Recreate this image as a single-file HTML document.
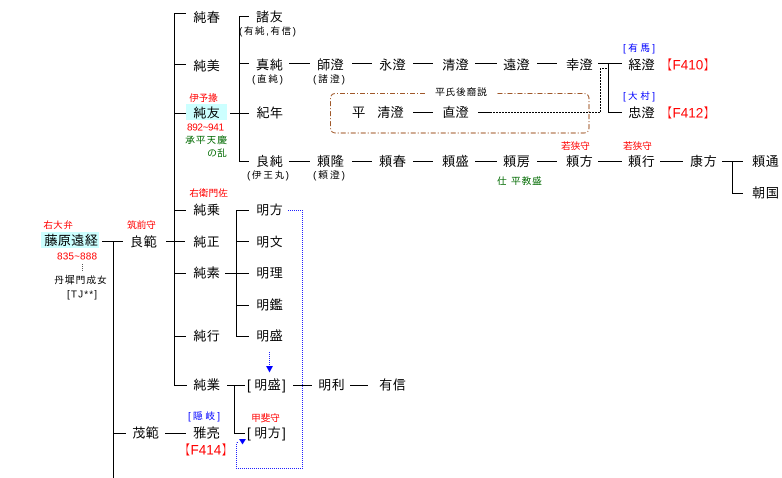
<!DOCTYPE html>
<html><head><meta charset="utf-8">
<style>
html,body{margin:0;padding:0;background:#fff;}
svg{display:block;font-family:"Liberation Sans","IPAGothic","Noto Sans CJK JP",sans-serif;}
text{dominant-baseline:central;}
.m{font-size:13.5px;fill:#000;}
.s{font-size:10px;fill:#000;}
.r{fill:#ff0000;}
.g{fill:#006a00;}
.b{fill:#0000ff;}
</style></head>
<body>
<svg width="782" height="478" viewBox="0 0 782 478" xmlns="http://www.w3.org/2000/svg">
<rect x="186" y="104" width="41" height="16" fill="#ccffff"/>
<rect x="41" y="232" width="58" height="16" fill="#ccffff"/>

<g stroke="#000" stroke-width="1" fill="none" shape-rendering="crispEdges">
<path d="M102 241.5H123M113.5 241V478M113 433.5H126"/>
<path d="M166 241.5H185M174.5 13V385.5M174 13.5H186M174 64.5H186M174 113.5H186M174 210.5H186M174 273.5H186M174 336.5H186M174 385.5H187"/>
<path d="M239.5 16V161.5M239 16.5H249M239 63.5H249M230 113.5H249M239 161.5H249"/>
<path d="M289 63.5H310M352 63.5H372M413 63.5H433M475 63.5H497M537 63.5H557M598 63.5H622M608.5 63V112.5M608 112.5H622"/>
<path d="M289 161.5H310M352 161.5H372M413 161.5H433M475 161.5H497M537 161.5H557M598 161.5H622M660 161.5H683M722 161.5H743M732.5 161V193.5M732 193.5H743"/>
<path d="M413 112.5H433M478 112.5H490"/>
<path d="M236.5 210V336.5M236 210.5H249M236 241.5H249M225 273.5H249M236 305.5H249M236 336.5H249"/>
<path d="M227 385.5H245M234.5 385V433.5H245M293 385.5H312M350 385.5H368M165 433.5H186"/>
</g>
<path d="M490 112.5H600.5V68.5H608" stroke="#000" stroke-width="1" fill="none" stroke-dasharray="2 1" shape-rendering="crispEdges"/>
<path d="M82.5 264V271" stroke="#555" stroke-width="1" stroke-dasharray="1 1" shape-rendering="crispEdges"/>

<path d="M425 93.5H336Q330.5 93.5 330.5 99V127.5Q330.5 133 336 133H583.5Q589 133 589 127.5V99Q589 93.5 583.5 93.5H497" stroke="#a0582a" stroke-width="1" fill="none" stroke-dasharray="5 2 1 2"/>

<path d="M288 210.5H302.5V468.5H236.5V446Q236.5 442 239 442" stroke="#2020ff" stroke-width="1" fill="none" stroke-dasharray="1 1" shape-rendering="crispEdges"/>
<polygon points="239,439 246,439 242.5,444.5" fill="#0000ff"/>
<path d="M269.5 352V366" stroke="#2020ff" stroke-width="1" fill="none" stroke-dasharray="1 1" shape-rendering="crispEdges"/>
<polygon points="266,366 273,366 269.5,372.5" fill="#0000ff"/>

<g class="m">
<text x="193" y="17.5">純春</text>
<text x="193" y="66">純美</text>
<text x="193" y="113">純友</text>
<text x="193" y="210">純乗</text>
<text x="193" y="242">純正</text>
<text x="193" y="273">純素</text>
<text x="193" y="336">純行</text>
<text x="193" y="385">純業</text>
<text x="256" y="17">諸友</text>
<text x="256" y="65">真純</text>
<text x="256" y="113">紀年</text>
<text x="256" y="161.5">良純</text>
<text x="256" y="210">明方</text>
<text x="256" y="242">明文</text>
<text x="256" y="273">明理</text>
<text x="256" y="305">明鑑</text>
<text x="256" y="336">明盛</text>
<text x="44" y="240.5">藤原遠経</text>
<text x="130" y="242">良範</text>
<text x="132" y="433">茂範</text>
<text x="193" y="433">雅亮</text>
<text x="318" y="385">明利</text>
<text x="379" y="385">有信</text>
<text x="317" y="65">師澄</text>
<text x="379" y="65">永澄</text>
<text x="442" y="65">清澄</text>
<text x="503" y="65">遠澄</text>
<text x="566" y="65">幸澄</text>
<text x="628" y="65">経澄</text>
<text x="317" y="161.5">頼隆</text>
<text x="379" y="161.5">頼春</text>
<text x="442" y="161.5">頼盛</text>
<text x="503" y="161.5">頼房</text>
<text x="566" y="161.5">頼方</text>
<text x="628" y="161.5">頼行</text>
<text x="690" y="161.5">康方</text>
<text x="752" y="161.5">頼通</text>
<text x="752" y="193">朝国</text>
<text x="352" y="112.5">平</text>
<text x="377" y="112.5">清澄</text>
<text x="442" y="112.5">直澄</text>
<text x="628" y="113">忠澄</text>
<text x="247" y="385">[</text><text x="254" y="385">明盛</text><text x="282" y="385">]</text>
<text x="247" y="433">[</text><text x="254" y="433">明方</text><text x="282" y="433">]</text>
<text x="659" y="65" class="r">【F410】</text>
<text x="659" y="113" class="r">【F412】</text>
<text x="177" y="450" class="r">【F414】</text>
</g>

<g class="s">
<text x="239" y="32" textLength="57">(有純,有信)</text>
<text x="252" y="80" textLength="31">(直純)</text>
<text x="313" y="80" textLength="32">(諸澄)</text>
<text x="247" y="176" textLength="42">(伊王丸)</text>
<text x="313" y="176" textLength="32">(頼澄)</text>
<text x="189" y="99" class="r" textLength="29">伊予掾</text>
<text x="187" y="128" class="r" textLength="37">892~941</text>
<text x="185" y="141" class="g" textLength="42">承平天慶</text>
<text x="207" y="154" class="g" textLength="20">の乱</text>
<text x="189" y="194" class="r" textLength="39">右衛門佐</text>
<text x="43" y="226" class="r" textLength="30">右大弁</text>
<text x="127" y="226" class="r" textLength="29">筑前守</text>
<text x="57" y="257" class="r" textLength="40">835~888</text>
<text x="54" y="281" textLength="53">丹墀門成女</text>
<text x="67" y="295" textLength="30">[TJ**]</text>
<text x="561" y="147" class="r" textLength="29">若狭守</text>
<text x="623" y="147" class="r" textLength="29">若狭守</text>
<text x="497" y="182" class="g" textLength="45">仕 平教盛</text>
<text x="623" y="49" class="b" textLength="32">[有馬]</text>
<text x="623" y="97" class="b" textLength="32">[大村]</text>
<text x="188" y="417" class="b" textLength="32">[隠岐]</text>
<text x="251" y="419" class="r" textLength="29">甲斐守</text>
<text x="435" y="93" textLength="52">平氏後裔説</text>
</g>
</svg>
</body></html>
